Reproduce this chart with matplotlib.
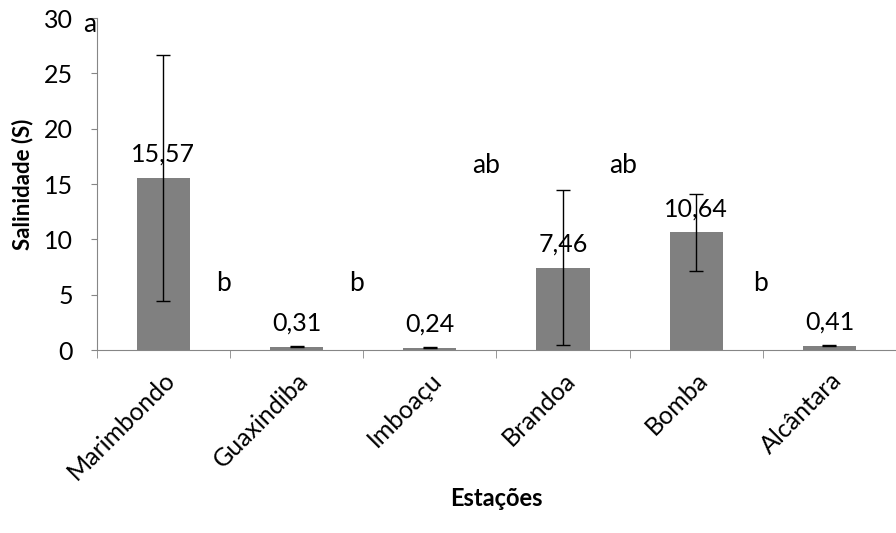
import matplotlib
matplotlib.use("Agg")
import matplotlib.pyplot as plt
import numpy as np

plt.rcParams['font.family'] = ['Lato', 'DejaVu Sans']

estacoes = ['Marimbondo', 'Guaxindiba', 'Imboaçu', 'Brandoa', 'Bomba', 'Alcântara']
salinidade = [15.57, 0.31, 0.24, 7.46, 10.64, 0.41]
erro = [11.1, 0.05, 0.03, 7.0, 3.45, 0.06]
rotulos = ['15,57', '0,31', '0,24', '7,46', '10,64', '0,41']

# letras de significancia (posicao x em unidades de categoria, y em S)
letras = ['a', 'b', 'b', 'ab', 'ab', 'b']
letras_x = [-0.55, 0.45, 1.45, 2.42, 3.45, 4.48]
letras_y = [29.4, 6.0, 6.0, 16.7, 16.7, 6.0]

fig = plt.figure(figsize=(8.96, 5.33), dpi=100)
ax = fig.add_axes([0.108, 0.343, 0.892, 0.623])

x = np.arange(len(estacoes))
ax.bar(x, salinidade, width=0.4, color='#808080', zorder=2)
ax.errorbar(x, salinidade, yerr=erro, fmt='none', ecolor='black',
            elinewidth=1, capsize=5, capthick=1, zorder=3)

for xi, v, r in zip(x, salinidade, rotulos):
    ax.annotate(r, (xi, v), xytext=(0, 17), textcoords='offset points',
                ha='center', va='center', fontsize=18)

for l, lx, ly in zip(letras, letras_x, letras_y):
    ax.text(lx, ly, l, ha='center', va='center', fontsize=19, clip_on=False)

ax.set_xlim(-0.5, 5.5)
ax.set_ylim(0, 30)
ax.set_yticks(range(0, 31, 5))
ax.set_xticks(np.arange(-0.5, 5.6, 1), minor=True)
ax.set_xticks(x)
ax.set_xticklabels(estacoes, rotation=45, ha='right', rotation_mode='anchor', fontsize=18)
ax.tick_params(axis='x', which='major', length=0, pad=13)
ax.tick_params(axis='x', which='minor', length=6, color='#868686')
ax.tick_params(axis='y', length=4, color='#868686', labelsize=18, pad=13)

for s in ['top', 'right']:
    ax.spines[s].set_visible(False)
ax.spines['left'].set_color('#868686')
ax.spines['bottom'].set_color('#868686')

ax.set_ylabel('Salinidade (S)', fontsize=16, fontweight='bold', labelpad=8)
ax.set_xlabel('Estações', fontsize=17, fontweight='bold', labelpad=2)

plt.savefig('out.png', dpi=100)
plt.close()
